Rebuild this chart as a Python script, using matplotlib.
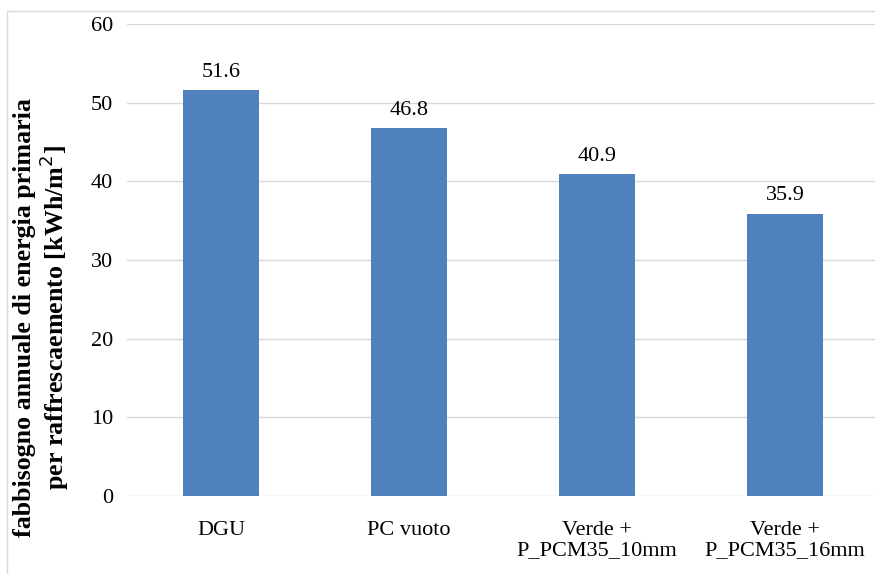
import matplotlib
matplotlib.use('Agg')
import matplotlib.pyplot as plt
from matplotlib.patches import Rectangle

categories = ['DGU', 'PC vuoto', 'Verde +\nP_PCM35_10mm', 'Verde +\nP_PCM35_16mm']
values = [51.6, 46.8, 40.9, 35.9]
yticks = [0, 10, 20, 30, 40, 50, 60]

plt.rcParams['font.family'] = ['Liberation Serif', 'DejaVu Serif']

fig = plt.figure(figsize=(8.75, 5.74), dpi=100)
# light frame around the chart
fig.patches.append(Rectangle((7/875, -0.1), 1.2, 1 - 11/574 + 0.1, transform=fig.transFigure,
                             fill=False, edgecolor='#d9d9d9', linewidth=1.0))
ax = fig.add_axes([127/875, 1 - 496/574, 752/875, 472/574])

x = range(len(categories))
ax.bar(x, values, width=0.4, color='#4f81bd', zorder=3)
for xi, v in zip(x, values):
    ax.annotate('%.1f' % v, (xi, v), xytext=(0, 6), textcoords='offset points',
                ha='center', va='bottom', fontsize=16)

ax.set_xlim(-0.5, len(categories) - 0.5)
ax.set_ylim(0, 60)
ax.set_yticks(yticks)
ax.set_xticks(list(x))
ax.set_xticklabels(categories, fontsize=16, linespacing=1.1)
ax.tick_params(axis='both', length=0, labelsize=16)
ax.tick_params(axis='y', pad=10)
ax.tick_params(axis='x', pad=18)
ax.grid(axis='y', color='#d9d9d9', linewidth=1.0, zorder=0)
for s in ax.spines.values():
    s.set_visible(False)

ax.set_ylabel('fabbisogno annuale di energia primaria\nper raffrescaemento [kWh/m$^2$]',
              fontsize=18.7, fontweight='bold', linespacing=1.05)
ax.yaxis.set_label_coords(-56/752, 0.379)

fig.savefig('out.png', dpi=100)
